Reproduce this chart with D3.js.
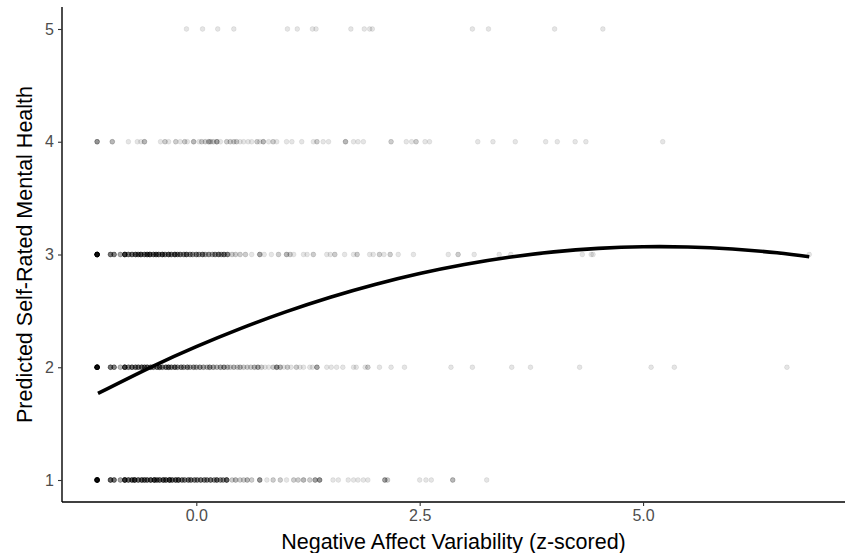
<!DOCTYPE html>
<html>
<head>
<meta charset="utf-8">
<script src="https://cdn.jsdelivr.net/npm/d3@7"></script>
<style>
  html, body { margin: 0; padding: 0; background: #fff; }
  svg { display: block; font-family: "Liberation Sans", Arial, Helvetica, sans-serif; }
</style>
</head>
<body>
<svg id="chart" width="847" height="553"></svg>
<script>
// ---- Data ----
// Each observed point: [x (z-scored NA variability), number of overlapping observations]
const rating1 = [[-1.11,25],[-0.96,9],[-0.92,7],[-0.85,4],[-0.80,14],[-0.76,8],[-0.72,9],[-0.69,12],[-0.65,8],[-0.61,9],[-0.58,8],[-0.55,8],[-0.51,10],[-0.47,12],[-0.44,8],[-0.41,8],[-0.37,10],[-0.34,9],[-0.30,12],[-0.27,8],[-0.23,9],[-0.20,10],[-0.16,7],[-0.13,6],[-0.09,7],[-0.06,7],[-0.02,6],[0.01,6],[0.05,7],[0.09,6],[0.12,6],[0.16,7],[0.20,5],[0.23,8],[0.27,5],[0.30,5],[0.34,9],[0.40,2],[0.44,3],[0.49,2],[0.53,2],[0.57,3],[0.62,2],[0.71,5],[0.79,1],[0.86,2],[0.94,2],[1.01,1],[1.09,2],[1.14,2],[1.20,3],[1.27,2],[1.33,4],[1.38,5],[1.53,1],[1.59,1],[1.70,1],[1.76,1],[1.81,1],[1.87,1],[1.92,1],[2.11,4],[2.14,2],[2.50,1],[2.57,1],[2.63,1],[2.87,3],[3.25,1]];
const rating2 = [[-1.11,25],[-0.96,7],[-0.92,6],[-0.85,3],[-0.80,12],[-0.76,6],[-0.72,8],[-0.68,7],[-0.65,7],[-0.61,8],[-0.58,7],[-0.55,8],[-0.51,7],[-0.48,6],[-0.44,7],[-0.41,8],[-0.38,6],[-0.34,7],[-0.31,8],[-0.28,6],[-0.24,8],[-0.21,5],[-0.17,6],[-0.14,5],[-0.10,6],[-0.07,4],[-0.03,5],[0.00,4],[0.04,5],[0.08,4],[0.12,3],[0.15,5],[0.19,4],[0.23,3],[0.27,4],[0.31,5],[0.35,3],[0.38,2],[0.42,3],[0.46,2],[0.49,3],[0.53,2],[0.57,2],[0.61,2],[0.65,3],[0.69,4],[0.73,2],[0.77,1],[0.81,1],[0.86,2],[0.90,5],[0.94,3],[0.98,1],[1.02,2],[1.06,1],[1.12,2],[1.16,1],[1.20,1],[1.27,1],[1.30,1],[1.35,4],[1.46,1],[1.51,1],[1.57,1],[1.64,1],[1.76,1],[1.79,1],[1.89,1],[1.92,2],[2.05,1],[2.18,1],[2.33,1],[2.85,1],[3.09,1],[3.53,1],[3.74,1],[4.29,1],[5.09,1],[5.35,1],[6.61,1]];
const rating3 = [[-1.11,25],[-0.96,7],[-0.92,6],[-0.85,4],[-0.80,13],[-0.76,7],[-0.72,8],[-0.68,9],[-0.65,7],[-0.62,10],[-0.58,8],[-0.55,9],[-0.52,11],[-0.48,8],[-0.45,9],[-0.42,8],[-0.38,10],[-0.35,7],[-0.31,9],[-0.28,7],[-0.24,10],[-0.21,6],[-0.18,7],[-0.14,6],[-0.11,8],[-0.07,6],[-0.04,5],[0.00,6],[0.03,5],[0.07,7],[0.10,4],[0.14,5],[0.18,4],[0.21,6],[0.25,7],[0.28,4],[0.31,7],[0.35,6],[0.40,2],[0.44,2],[0.49,2],[0.55,2],[0.62,1],[0.71,4],[0.76,1],[0.84,1],[0.92,2],[1.01,3],[1.05,2],[1.09,1],[1.20,1],[1.24,1],[1.31,2],[1.46,1],[1.50,1],[1.55,2],[1.66,1],[1.76,1],[1.80,2],[1.94,1],[1.98,1],[2.05,2],[2.10,1],[2.17,2],[2.26,1],[2.43,1],[2.82,1],[2.93,2],[3.11,1],[3.39,1],[3.52,1],[4.32,1],[4.42,1],[4.44,1],[6.86,1]];
const rating4 = [[-1.11,5],[-0.94,3],[-0.76,1],[-0.66,1],[-0.62,1],[-0.58,3],[-0.40,1],[-0.35,2],[-0.31,1],[-0.23,2],[-0.18,1],[-0.13,2],[-0.10,1],[-0.03,3],[0.03,1],[0.06,2],[0.10,2],[0.14,3],[0.16,2],[0.19,2],[0.23,4],[0.27,1],[0.34,2],[0.38,2],[0.42,2],[0.45,2],[0.49,1],[0.53,1],[0.58,1],[0.62,1],[0.68,2],[0.71,1],[0.75,3],[0.81,1],[0.86,2],[0.90,1],[1.01,1],[1.07,1],[1.18,1],[1.31,1],[1.35,2],[1.42,1],[1.48,1],[1.67,3],[1.76,1],[1.81,1],[1.87,1],[2.18,2],[2.35,1],[2.41,1],[2.46,2],[2.56,1],[2.61,1],[3.15,1],[3.32,1],[3.57,1],[3.91,1],[4.04,1],[4.24,1],[4.36,1],[5.22,1]];
const rating5 = [[-0.11,1],[0.07,1],[0.24,1],[0.42,1],[1.02,1],[1.13,1],[1.30,1],[1.34,1],[1.73,1],[1.88,1],[1.94,1],[1.97,1],[3.09,1],[3.27,1],[4.01,1],[4.55,1]];
const ratingLevels = [1, 2, 3, 4, 5];
// Fitted curve, values
const curveX = [-1.1, -0.5, 0, 0.5, 1.0, 1.5, 2.0, 2.5, 3.0, 3.5, 4.0, 4.5, 5.0, 5.5, 6.0, 6.5, 6.86];
const curveY = [1.768, 2.004, 2.183, 2.345, 2.491, 2.621, 2.734, 2.831, 2.911, 2.975, 3.023, 3.054, 3.069, 3.067, 3.049, 3.015, 2.980];
const xTicks = [0, 2.5, 5];
const yTicks = [1, 2, 3, 4, 5];
const xTitle = "Negative Affect Variability (z-scored)";
const yTitle = "Predicted Self-Rated Mental Health";

// ---- Layout ----
const svg = d3.select("#chart");
const mLeft = 62, mRight = 845, mTop = 7, mBottom = 502;
const x = d3.scaleLinear().domain([-1.503, 7.26]).range([mLeft, mRight]);
const y = d3.scaleLinear().domain([0.805, 5.195]).range([mBottom, mTop]);

// ---- Points ----
const rows = [rating1, rating2, rating3, rating4, rating5];
const pts = [];
rows.forEach((row, i) => {
  row.forEach(([xv, n]) => {
    for (let k = 0; k < n; k++) pts.push({x: xv, y: ratingLevels[i]});
  });
});
svg.append("g").selectAll("circle").data(pts).join("circle")
  .attr("cx", d => x(d.x))
  .attr("cy", d => y(d.y))
  .attr("r", 2.4)
  .attr("fill", "#000")
  .attr("fill-opacity", 0.1)
  .attr("stroke", "#000")
  .attr("stroke-opacity", 0.1)
  .attr("stroke-width", 0.7);

// ---- Curve ----
const line = d3.line().x(d => x(d[0])).y(d => y(d[1])).curve(d3.curveNatural);
svg.append("path")
  .datum(curveX.map((v, i) => [v, curveY[i]]))
  .attr("d", line)
  .attr("fill", "none")
  .attr("stroke", "#000")
  .attr("stroke-width", 3.6);

// ---- Axes ----
const xAxis = d3.axisBottom(x).tickValues(xTicks).tickFormat(d3.format(".1f")).tickSizeOuter(0).tickSize(4).tickPadding(4);
const gx = svg.append("g").attr("transform", `translate(0,${mBottom})`).call(xAxis);
const yAxis = d3.axisLeft(y).tickValues(yTicks).tickFormat(d3.format("d")).tickSizeOuter(0).tickSize(4).tickPadding(4);
const gy = svg.append("g").attr("transform", `translate(${mLeft},0)`).call(yAxis);

[gx, gy].forEach(g => {
  g.select(".domain").attr("stroke", "#000").attr("stroke-width", 1.4);
  g.selectAll(".tick line").attr("stroke", "#333").attr("stroke-width", 1.1);
  g.selectAll(".tick text").attr("fill", "#4d4d4d").style("font-size", "16px");
});
gx.select(".domain").attr("d", `M${mLeft},0H${mRight}`);
gy.select(".domain").attr("d", `M0,${mBottom}V${mTop}`);

svg.append("text")
  .attr("x", (mLeft + mRight) / 2)
  .attr("y", 549)
  .attr("text-anchor", "middle")
  .style("font-size", "21.5px")
  .attr("fill", "#000")
  .text(xTitle);

svg.append("text")
  .attr("transform", `translate(32,${(mTop + mBottom) / 2}) rotate(-90)`)
  .attr("text-anchor", "middle")
  .style("font-size", "21.5px")
  .attr("fill", "#000")
  .text(yTitle);
</script>
</body>
</html>
